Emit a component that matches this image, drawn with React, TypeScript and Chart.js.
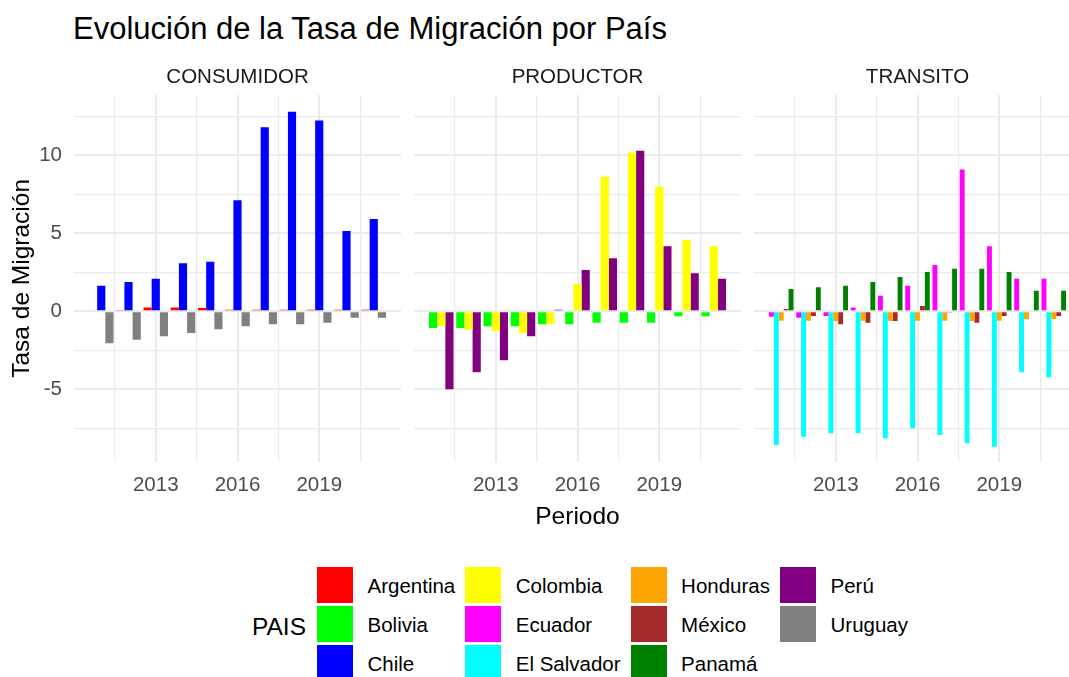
import React, { useEffect, useRef } from 'react';
import { Chart, registerables } from 'chart.js';

Chart.register(...registerables);

const FONT = '"Liberation Sans", Arial, Helvetica, sans-serif';

const titleText = 'Evolución de la Tasa de Migración por País';
const xAxisTitle = 'Periodo';
const yAxisTitle = 'Tasa de Migración';
const legendTitle = 'PAIS';

const years = [2011, 2012, 2013, 2014, 2015, 2016, 2017, 2018, 2019, 2020, 2021];
const xTicks = [2011.5, 2013, 2014.5, 2016, 2017.5, 2019, 2020.5];
const yTicks = [-7.5, -5, -2.5, 0, 2.5, 5, 7.5, 10, 12.5];

const panelNames = ['CONSUMIDOR', 'PRODUCTOR', 'TRANSITO'];

const countries = ['Argentina', 'Bolivia', 'Chile', 'Colombia', 'Ecuador', 'El Salvador', 'Honduras', 'México', 'Panamá', 'Perú', 'Uruguay'];
const countryColors = ['#FF0000', '#00FF00', '#0000FF', '#FFFF00', '#FF00FF', '#00FFFF', '#FFA500', '#A52A2A', '#008000', '#800080', '#808080'];

// CONSUMIDOR
const argentina = [0, 0.08, 0.25, 0.25, 0.22, 0.1, 0.1, 0.1, 0.1, 0.1, 0.1];
const chile = [1.64, 1.88, 2.09, 3.08, 3.18, 7.12, 11.8, 12.8, 12.24, 5.15, 5.92];
const uruguay = [-2.05, -1.82, -1.6, -1.39, -1.15, -0.96, -0.83, -0.83, -0.73, -0.41, -0.41];
// PRODUCTOR
const bolivia = [-1.07, -1.07, -0.96, -0.96, -0.83, -0.83, -0.73, -0.73, -0.73, -0.32, -0.32];
const colombia = [-0.94, -1.18, -1.28, -1.39, -0.83, 1.77, 8.63, 10.19, 7.99, 4.59, 4.17];
const peru = [-5.0, -3.91, -3.14, -1.6, 0.1, 2.65, 3.4, 10.3, 4.17, 2.44, 2.09];
// TRANSITO
const ecuador = [-0.35, -0.41, -0.3, 0.24, 1.0, 1.64, 2.97, 9.1, 4.17, 2.09, 2.09];
const elSalvador = [-8.57, -8.04, -7.82, -7.82, -8.14, -7.5, -7.93, -8.46, -8.68, -3.91, -4.23];
const honduras = [-0.6, -0.6, -0.62, -0.6, -0.62, -0.6, -0.6, -0.62, -0.6, -0.5, -0.5];
const mexico = [0.15, -0.3, -0.83, -0.73, -0.62, 0.34, -0.05, -0.73, -0.3, 0, -0.3];
const panama = [1.43, 1.54, 1.64, 1.88, 2.2, 2.52, 2.73, 2.73, 2.52, 1.32, 1.32];

const panelSeries: { name: string; values: number[] }[][] = [
  [
    { name: 'Argentina', values: argentina },
    { name: 'Chile', values: chile },
    { name: 'Uruguay', values: uruguay },
  ],
  [
    { name: 'Bolivia', values: bolivia },
    { name: 'Colombia', values: colombia },
    { name: 'Perú', values: peru },
  ],
  [
    { name: 'Ecuador', values: ecuador },
    { name: 'El Salvador', values: elSalvador },
    { name: 'Honduras', values: honduras },
    { name: 'México', values: mexico },
    { name: 'Panamá', values: panama },
  ],
];

const Y_MIN = -9.64;
const Y_MAX = 13.87;
const PANEL_LEFTS = [74, 414, 754];
const PANEL_W = 327;
const AXIS_W = 74;
const CANVAS_TOP = 60;
const CANVAS_H = 480;
const CHART_BOTTOM = 461.7;

function colorOf(name: string) {
  return countryColors[countries.indexOf(name)];
}

function Panel({ index }: { index: number }) {
  const ref = useRef<HTMLCanvasElement | null>(null);
  useEffect(() => {
    if (!ref.current) return;
    const showY = index === 0;
    const showXTitle = index === 1;
    const tickFont = { family: FONT, size: 20.5, weight: 'normal' as const };
    const titleFont = { family: FONT, size: 24.5, weight: 'normal' as const };
    const chart = new Chart(ref.current, {
      type: 'bar',
      data: {
        datasets: panelSeries[index].map((s) => ({
          label: s.name,
          data: years.map((y, i) => ({ x: y, y: s.values[i] })),
          backgroundColor: colorOf(s.name),
          borderWidth: 0,
          categoryPercentage: 0.9,
          barPercentage: 1.0,
        })),
      },
      options: {
        responsive: false,
        animation: false,
        devicePixelRatio: 1,
        layout: { padding: 0 },
        plugins: {
          legend: { display: false },
          tooltip: { enabled: false },
          title: {
            display: true,
            text: panelNames[index],
            fullSize: false,
            color: '#1A1A1A',
            font: tickFont,
            padding: { top: 5.4, bottom: 5 },
          },
        },
        scales: {
          x: {
            type: 'linear',
            min: 2010,
            max: 2022,
            offset: false,
            afterBuildTicks: (s: any) => {
              s.ticks = xTicks.map((v) => ({ value: v }));
            },
            afterFit: (s: any) => {
              s.height = CANVAS_TOP + CANVAS_H - CHART_BOTTOM;
            },
            ticks: {
              autoSkip: false,
              maxRotation: 0,
              minRotation: 0,
              color: '#4D4D4D',
              font: tickFont,
              padding: 11.8,
              callback: (v: any) => (Number.isInteger(v) ? String(v) : ''),
            },
            grid: {
              offset: false,
              color: '#EBEBEB',
              drawTicks: false,
              lineWidth: (c: any) => (c.tick && Number.isInteger(c.tick.value) ? 2 : 1.2),
            },
            border: { display: false },
            title: {
              display: showXTitle,
              text: xAxisTitle,
              color: '#000000',
              font: titleFont,
              padding: { top: 0, bottom: 8.3 },
            },
          },
          y: {
            type: 'linear',
            min: Y_MIN,
            max: Y_MAX,
            afterBuildTicks: (s: any) => {
              s.ticks = yTicks.map((v) => ({ value: v }));
            },
            afterFit: (s: any) => {
              s.width = AXIS_W;
            },
            ticks: {
              display: showY,
              color: '#4D4D4D',
              font: tickFont,
              padding: 12,
              callback: (v: any) => (v % 5 === 0 ? String(v) : ''),
            },
            grid: {
              color: '#EBEBEB',
              drawTicks: false,
              lineWidth: (c: any) => (c.tick && c.tick.value % 5 === 0 ? 2 : 1.2),
            },
            border: { display: false },
            title: {
              display: showY,
              text: yAxisTitle,
              color: '#000000',
              font: titleFont,
              padding: { top: 7.3, bottom: 0 },
            },
          },
        },
      } as any,
    });
    return () => chart.destroy();
  }, [index]);

  return (
    <canvas
      ref={ref}
      width={AXIS_W + PANEL_W}
      height={CANVAS_H}
      style={{
        position: 'absolute',
        left: PANEL_LEFTS[index] - AXIS_W,
        top: CANVAS_TOP,
        width: AXIS_W + PANEL_W,
        height: CANVAS_H,
        display: 'block',
      }}
    />
  );
}

function Legend() {
  return (
    <>
      <div
        style={{
          position: 'absolute',
          left: 252,
          top: 613,
          fontSize: 24.5,
          lineHeight: '28px',
          color: '#000',
          fontFamily: FONT,
        }}
      >
        {legendTitle}
      </div>
      <div
        style={{
          position: 'absolute',
          left: 317,
          top: 567,
          display: 'grid',
          gridTemplateRows: 'repeat(3, 36px)',
          gridAutoFlow: 'column',
          rowGap: 3,
          columnGap: 10,
          fontFamily: FONT,
          fontSize: 20.5,
          color: '#000',
        }}
      >
        {countries.map((c, i) => (
          <div key={c} style={{ display: 'flex', alignItems: 'center', height: 36 }}>
            <div style={{ width: 36, height: 36, background: countryColors[i], flex: 'none' }} />
            <span style={{ marginLeft: 14.5, whiteSpace: 'nowrap', position: 'relative', top: 1 }}>{c}</span>
          </div>
        ))}
      </div>
    </>
  );
}

export default function App() {
  return (
    <div
      style={{
        position: 'fixed',
        left: 0,
        top: 0,
        width: 1069,
        height: 677,
        overflow: 'hidden',
        background: '#ffffff',
        fontFamily: FONT,
      }}
    >
      <div
        style={{
          position: 'absolute',
          left: 73,
          top: 13,
          fontSize: 31,
          lineHeight: '31px',
          color: '#000',
          whiteSpace: 'nowrap',
        }}
      >
        {titleText}
      </div>
      <Panel index={0} />
      <Panel index={1} />
      <Panel index={2} />
      <Legend />
    </div>
  );
}
